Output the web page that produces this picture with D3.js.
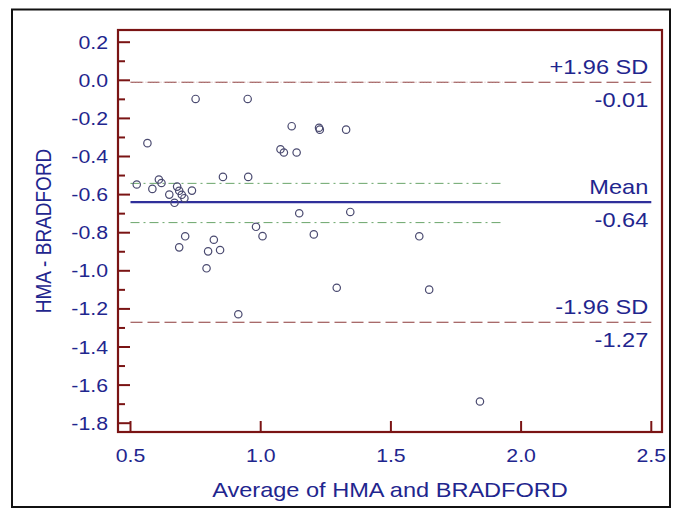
<!DOCTYPE html>
<html>
<head>
<meta charset="utf-8">
<script src="https://cdn.jsdelivr.net/npm/d3@7/dist/d3.min.js"></script>
<style>
  html, body { margin: 0; padding: 0; background: #fff; }
  svg { display: block; }
  text { font-family: "Liberation Sans", Arial, sans-serif; }
</style>
</head>
<body>
<svg id="chart" width="682" height="513"></svg>
<script>
// Bland-Altman data: average of the two methods vs. their difference
const avgValues = [0.524, 0.565, 0.584, 0.609, 0.619, 0.649, 0.669, 0.679, 0.687, 0.697,
                   0.707, 0.736, 0.750, 0.710, 0.687, 0.855, 0.950, 0.952, 0.820, 0.798,
                   0.844, 0.792, 0.914, 0.982, 1.007, 1.119, 1.076, 1.089, 1.138, 1.224,
                   1.227, 1.328, 1.148, 1.344, 1.204, 1.292, 1.609, 1.647, 1.842];
const diffValues = [-0.547, -0.330, -0.570, -0.521, -0.539, -0.600, -0.643, -0.558, -0.580, -0.601,
                    -0.619, -0.579, -0.098, -0.819, -0.877, -0.507, -0.098, -0.507, -0.837, -0.898,
                    -0.891, -0.987, -1.228, -0.769, -0.818, -0.241, -0.362, -0.379, -0.379, -0.249,
                    -0.259, -0.259, -0.698, -0.691, -0.809, -1.089, -0.819, -1.099, -1.686];

// Summary statistics
const meanDiff = -0.64;
const upperLimit = -0.01;
const lowerLimit = -1.27;
const meanCI = [-0.541, -0.747];
const lineExtent = [0.5, 2.5];
const ciExtent = [0.5, 1.93];

// Axis ticks and labels
const xTicks = [0.5, 1.0, 1.5, 2.0, 2.5];
const yTicks = [0.2, 0.0, -0.2, -0.4, -0.6, -0.8, -1.0, -1.2, -1.4, -1.6, -1.8];
const yMinorTicks = [0.1, -0.1, -0.3, -0.5, -0.7, -0.9, -1.1, -1.3, -1.5, -1.7];
const xTitle = "Average of HMA and BRADFORD";
const yTitle = "HMA - BRADFORD";

const frame = { left: 118, top: 30, right: 662, bottom: 432 };
const SX = 1.15;            // horizontal text stretch
const axisColor = "#7a1414";
const textColor = "#1f268e";

const svg = d3.select("#chart");

const x = d3.scaleLinear().domain([0.5, 2.5]).range([130.5, 651.3]);
const y = d3.scaleLinear().domain([0.2, -1.8]).range([42.2, 423.2]);

// fixed decimals with a plain hyphen for negatives
const fmt1 = v => (Math.abs(v) < 1e-9 ? 0 : v).toFixed(1);
const fmt2 = v => v.toFixed(2);

function label(parent, px, py, str, anchor, size) {
  return parent.append("text")
    .attr("transform", `translate(${px},${py}) scale(${SX},1)`)
    .attr("text-anchor", anchor)
    .attr("fill", textColor)
    .attr("font-size", size)
    .text(str);
}

// Outer border
svg.append("rect")
  .attr("x", 12).attr("y", 9.5).attr("width", 658).attr("height", 497.5)
  .attr("fill", "none").attr("stroke", "#111").attr("stroke-width", 2);

// Reference lines
const refs = svg.append("g");
refs.append("line")
  .attr("x1", x(lineExtent[0])).attr("x2", x(lineExtent[1]))
  .attr("y1", y(upperLimit)).attr("y2", y(upperLimit))
  .attr("stroke", "#8c3a3a").attr("stroke-width", 1.1).attr("stroke-dasharray", "12,5");
refs.append("line")
  .attr("x1", x(ciExtent[0])).attr("x2", x(ciExtent[1]))
  .attr("y1", y(upperLimit)).attr("y2", y(upperLimit))
  .attr("stroke", "#c9a2a2").attr("stroke-width", 0.8).attr("stroke-dasharray", "1,2");
refs.append("line")
  .attr("x1", x(lineExtent[0])).attr("x2", x(lineExtent[1]))
  .attr("y1", y(lowerLimit)).attr("y2", y(lowerLimit))
  .attr("stroke", "#8c3a3a").attr("stroke-width", 1.1).attr("stroke-dasharray", "12,5");
meanCI.forEach(v => {
  refs.append("line")
    .attr("x1", x(ciExtent[0])).attr("x2", x(ciExtent[1]))
    .attr("y1", y(v)).attr("y2", y(v))
    .attr("stroke", "#6aa56a").attr("stroke-width", 1).attr("stroke-dasharray", "9,4,2,4");
});
refs.append("line")
  .attr("x1", x(lineExtent[0])).attr("x2", x(lineExtent[1]))
  .attr("y1", y(meanDiff)).attr("y2", y(meanDiff))
  .attr("stroke", "#2f2f9a").attr("stroke-width", 2.2);

// Data points
svg.append("g").selectAll("circle")
  .data(avgValues.map((a, i) => [a, diffValues[i]]))
  .join("circle")
  .attr("cx", d => x(d[0]))
  .attr("cy", d => y(d[1]))
  .attr("r", 3.7)
  .attr("fill", "none")
  .attr("stroke", "#4a4a70")
  .attr("stroke-width", 1.2);

// Line labels
const labX = x(lineExtent[1]) - 3;
[["+1.96 SD", upperLimit], ["Mean", meanDiff], ["-1.96 SD", lowerLimit]].forEach(([name, v]) => {
  label(svg, labX, y(v) - 8, name, "end", 20.5);
  label(svg, labX, y(v) + 25, fmt2(v), "end", 20.5);
});

// Plot frame
svg.append("rect")
  .attr("x", frame.left).attr("y", frame.top)
  .attr("width", frame.right - frame.left).attr("height", frame.bottom - frame.top)
  .attr("fill", "none").attr("stroke", axisColor).attr("stroke-width", 2.2);

// Y axis ticks (inside) and labels
const yAxis = svg.append("g");
yAxis.selectAll("line.major").data(yTicks).join("line")
  .attr("class", "major")
  .attr("x1", frame.left).attr("x2", frame.left + 12)
  .attr("y1", d => y(d)).attr("y2", d => y(d))
  .attr("stroke", axisColor).attr("stroke-width", 2);
yAxis.selectAll("line.minor").data(yMinorTicks).join("line")
  .attr("class", "minor")
  .attr("x1", frame.left).attr("x2", frame.left + 7)
  .attr("y1", d => y(d)).attr("y2", d => y(d))
  .attr("stroke", axisColor).attr("stroke-width", 2);
yTicks.forEach(v => label(yAxis, 108, y(v) + 6.5, fmt1(v), "end", 18.5));

// X axis ticks (inside) and labels
const xAxis = svg.append("g");
xAxis.selectAll("line").data(xTicks).join("line")
  .attr("x1", d => x(d)).attr("x2", d => x(d))
  .attr("y1", frame.bottom).attr("y2", frame.bottom - 11)
  .attr("stroke", axisColor).attr("stroke-width", 2);
xTicks.forEach(v => label(xAxis, x(v), 462, fmt1(v), "middle", 18.5));

// Axis titles
label(svg, (frame.left + frame.right) / 2, 497, xTitle, "middle", 20.5);
svg.append("text")
  .attr("transform", `translate(51,${(frame.top + frame.bottom) / 2}) scale(${SX},1) rotate(-90)`)
  .attr("text-anchor", "middle")
  .attr("fill", textColor)
  .attr("font-size", 19)
  .text(yTitle);
</script>
</body>
</html>
